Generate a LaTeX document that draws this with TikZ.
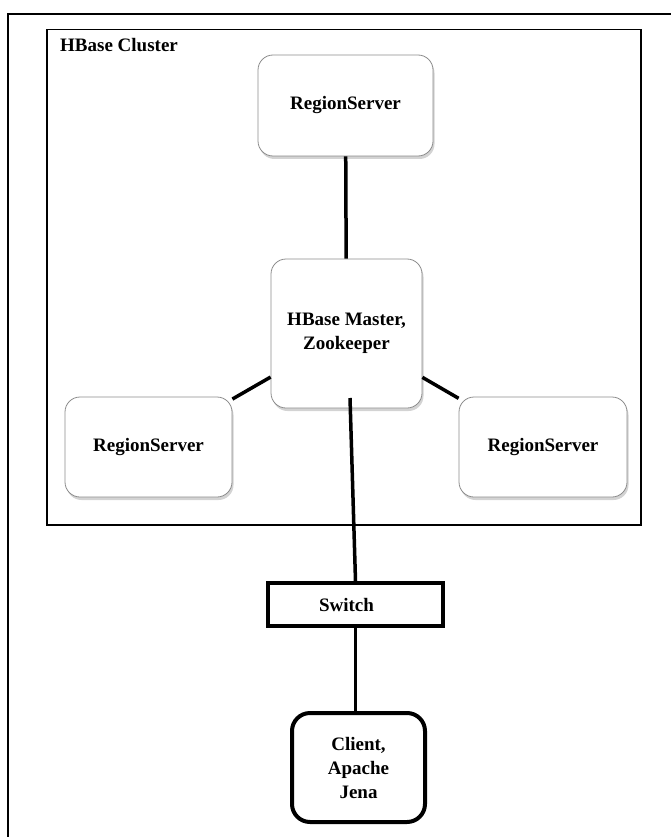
\documentclass[tikz,border=0pt]{standalone}
\usepackage{fontspec}
\setmainfont{Liberation Serif}
\usetikzlibrary{shadows}
\begin{document}
\begin{tikzpicture}[x=1pt,y=-1pt,
  every node/.style={font=\fontsize{19}{24}\selectfont\bfseries, align=center, inner sep=0pt},
  srvbox/.style={draw=black!45, line width=0.8pt, rounded corners=15pt, fill=white,
    drop shadow={opacity=0.35, shadow xshift=1.5pt, shadow yshift=-3pt}},
  thickbox/.style={draw=black, line width=4pt, fill=white},
  conn/.style={line width=3.5pt},
  frame/.style={line width=1.6pt}]
\useasboundingbox (0,0) rectangle (671,837);
% outer frame (open to right/bottom)
\draw[frame] (671,14) -- (8,14) -- (8,837);
% cluster box
\node[draw, line width=1.5pt, minimum width=594pt, minimum height=495pt, anchor=north west] (cluster) at (46,29) {};
\node[anchor=north west] (clabel) at (60,38) {HBase Cluster};
% servers
\node[srvbox, minimum width=175pt, minimum height=101pt] (trs) at (345.5,105.5) {RegionServer};
\node[srvbox, minimum width=151pt, minimum height=149pt] (master) at (346.5,333.5) {HBase Master,\\Zookeeper};
\node[srvbox, minimum width=167pt, minimum height=100pt] (lrs) at (148.5,447) {RegionServer};
\node[srvbox, minimum width=168pt, minimum height=100pt] (rrs) at (543,447) {RegionServer};
% switch and client
\node[thickbox, minimum width=175pt, minimum height=43pt] (switch) at (355.5,604.5) {Switch\hspace*{18pt}};
\node[thickbox, rounded corners=18pt, minimum width=133pt, minimum height=109pt] (client) at (358.5,767.5) {Client,\\Apache\\Jena};
\coordinate (mtap) at (350,398);
% connectors
\draw[conn] (trs) -- (master);
\draw[conn] (master) -- (lrs);
\draw[conn] (master) -- (rrs);
\draw[conn] (mtap) -- (switch.north);
\draw[conn] (switch.south) -- (switch.south |- client.north);
\end{tikzpicture}
\end{document}
